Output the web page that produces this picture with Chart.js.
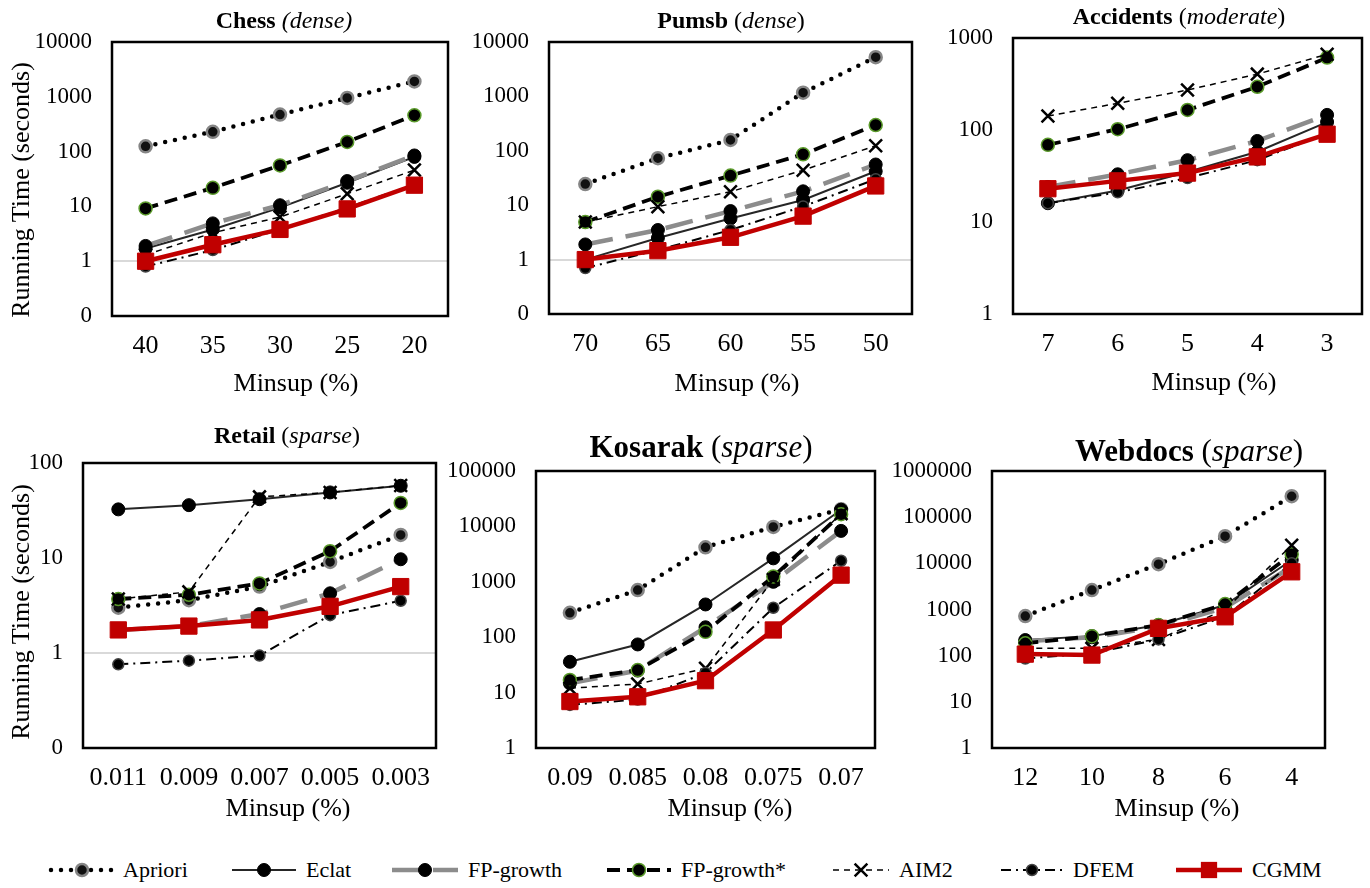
<!DOCTYPE html>
<html><head><meta charset="utf-8">
<script src="https://cdn.jsdelivr.net/npm/chart.js@4.4.1/dist/chart.umd.min.js"></script>
<style>
html,body{margin:0;padding:0;background:#fff;overflow:hidden;}
body{width:1370px;height:888px;position:relative;font-family:"Liberation Serif","Times New Roman",serif;color:#000;}
canvas{position:absolute;}
.t{position:absolute;transform:translate(-50%,-50%);white-space:nowrap;line-height:1;font-family:"Liberation Serif","Times New Roman",serif;}
.yt{position:absolute;transform:translate(-50%,-50%) rotate(-90deg);white-space:nowrap;line-height:1;font-size:26px;font-family:"Liberation Serif","Times New Roman",serif;}
.li{position:absolute;top:857px;height:26px;display:flex;align-items:center;white-space:nowrap;}
.li svg{display:block;}
.li span{font-family:"Liberation Serif","Times New Roman",serif;font-size:22px;margin-left:7px;}
</style>
</head><body>
<canvas id="chess"></canvas>
<canvas id="pumsb"></canvas>
<canvas id="accidents"></canvas>
<canvas id="retail"></canvas>
<canvas id="kosarak"></canvas>
<canvas id="webdocs"></canvas>

<div class="t" style="left:284px;top:20px;font-size:24px"><b>Chess</b> <i>(dense)</i></div>
<div class="t" style="left:731px;top:20px;font-size:24px"><b>Pumsb</b> (<i>dense</i>)</div>
<div class="t" style="left:1179px;top:16px;font-size:24px"><b>Accidents</b> (<i>moderate</i>)</div>
<div class="t" style="left:287px;top:435px;font-size:24px"><b>Retail</b> (<i>sparse</i>)</div>
<div class="t" style="left:701px;top:446px;font-size:31px"><b>Kosarak</b> (<i>sparse</i>)</div>
<div class="t" style="left:1189px;top:450px;font-size:31px"><b>Webdocs</b> (<i>sparse</i>)</div>

<div class="yt" style="left:21px;top:190px">Running Time (seconds)</div>
<div class="yt" style="left:21px;top:612px">Running Time (seconds)</div>

<div class="t" style="left:296px;top:383px;font-size:26px">Minsup (%)</div>
<div class="t" style="left:737px;top:383px;font-size:26px">Minsup (%)</div>
<div class="t" style="left:1214px;top:382px;font-size:26px">Minsup (%)</div>
<div class="t" style="left:288px;top:808px;font-size:26px">Minsup (%)</div>
<div class="t" style="left:730px;top:808px;font-size:26px">Minsup (%)</div>
<div class="t" style="left:1177px;top:808px;font-size:26px">Minsup (%)</div>

<div id="legend"></div>

<script>
// ---------------- DATA ----------------
const seriesNames = ['Apriori', 'Eclat', 'FP-growth', 'FP-growth*', 'AIM2', 'DFEM', 'CGMM'];

const chessMinsup = ['40', '35', '30', '25', '20'];
const chessApriori    = [125, 230, 475, 955, 1910];
const chessEclat      = [1.7, 3.8, 9.5, 27, 80];
const chessFPgrowth   = [1.9, 4.9, 10.5, 29, 85];
const chessFPgrowthS  = [9.2, 21.8, 56, 150, 460];
const chessAIM2       = [1.3, 3.3, 6.4, 17, 46];
const chessDFEM       = [0.8, 1.6, 3.8, 9.5, 25];
const chessCGMM       = [1.0, 2.0, 3.8, 9.0, 24.4];

const pumsbMinsup = ['70', '65', '60', '55', '50'];
const pumsbApriori    = [24.5, 73, 158, 1170, 5250];
const pumsbEclat      = [1.0, 2.5, 5.7, 12.5, 42];
const pumsbFPgrowth   = [1.9, 3.5, 7.8, 18, 56];
const pumsbFPgrowthS  = [4.9, 14.3, 35, 86, 298];
const pumsbAIM2       = [4.9, 9.4, 17.7, 44, 124];
const pumsbDFEM       = [0.7, 1.5, 3.5, 9.5, 30];
const pumsbCGMM       = [1.0, 1.46, 2.57, 6.3, 22.6];

const accMinsup = ['7', '6', '5', '4', '3'];
const accApriori      = [null, null, null, null, null];
const accEclat        = [16, 22, 35, 58, 122];
const accFPgrowth     = [24, 33, 47, 76, 146];
const accFPgrowthS    = [69, 102, 165, 295, 612];
const accAIM2         = [142, 195, 272, 405, 665];
const accDFEM         = [16, 21, 30, 47, 92];
const accCGMM         = [23, 28, 34, 51, 90];

const retailMinsup = ['0.011', '0.009', '0.007', '0.005', '0.003'];
const retailApriori   = [3.0, 3.6, 5.0, 9.1, 17.5];
const retailEclat     = [32.5, 36, 41.6, 49, 57.6];
const retailFPgrowth  = [1.75, 1.92, 2.57, 4.25, 9.7];
const retailFPgrowthS = [3.7, 4.1, 5.4, 11.8, 38];
const retailAIM2      = [3.7, 4.4, 44, 49, 58];
const retailDFEM      = [0.76, 0.83, 0.94, 2.5, 3.55];
const retailCGMM      = [1.75, 1.92, 2.23, 3.1, 5.0];

const kosMinsup = ['0.09', '0.085', '0.08', '0.075', '0.07'];
const kosApriori      = [276, 710, 4200, 9800, 20400];
const kosEclat        = [36, 74, 390, 2650, 20000];
const kosFPgrowth     = [14.7, 25, 151, 1000, 8300];
const kosFPgrowthS    = [16.9, 25.5, 125, 1240, 16600];
const kosAIM2         = [12, 14.3, 27.4, 1100, 17000];
const kosDFEM         = [6.0, 7.5, 22.6, 340, 2400];
const kosCGMM         = [6.9, 8.4, 16.4, 135, 1320];

const webMinsup = ['12', '10', '8', '6', '4'];
const webApriori      = [720, 2630, 9600, 38800, 284000];
const webEclat        = [218, 265, 460, 1250, 11800];
const webFPgrowth     = [205, 250, 420, 1100, 8400];
const webFPgrowthS    = [185, 265, 460, 1310, 15800];
const webAIM2         = [144, 144, 225, 1000, 24700];
const webDFEM         = [87, 112, 225, 700, 10000];
const webCGMM         = [108, 103, 390, 695, 6550];

const ticksChess  = [0.1, 1, 10, 100, 1000, 10000];
const ticksPumsb  = [0.1, 1, 10, 100, 1000, 10000];
const ticksAcc    = [1, 10, 100, 1000];
const ticksRetail = [0.1, 1, 10, 100];
const ticksKos    = [1, 10, 100, 1000, 10000, 100000];
const ticksWeb    = [1, 10, 100, 1000, 10000, 100000, 1000000];

// ---------------- STYLES ----------------
const FONT = '"Liberation Serif", "Times New Roman", serif';
const styles = {
  'Apriori':    {color:'#000', width:4.5, dash:[0, 10], cap:'round', point:'circle', radius:6, bg:'#111', pb:'#858585', pbw:2.5},
  'Eclat':      {color:'#262626', width:2, dash:[], cap:'butt', point:'circle', radius:6.5, bg:'#000', pb:'#000', pbw:1},
  'FP-growth':  {color:'#8c8c8c', width:4.5, dash:[28, 13], cap:'butt', point:'circle', radius:6.5, bg:'#000', pb:'#000', pbw:1},
  'FP-growth*': {color:'#000', width:3.8, dash:[13, 7], cap:'butt', point:'circle', radius:6.5, bg:'#000', pb:'#5a9a2a', pbw:1.5},
  'AIM2':       {color:'#000', width:1.5, dash:[6, 5], cap:'butt', point:'crossRot', radius:9, bg:'#000', pb:'#000', pbw:2.5},
  'DFEM':       {color:'#000', width:2, dash:[10, 5, 2, 5], cap:'butt', point:'circle', radius:5.5, bg:'#000', pb:'#444', pbw:1.5},
  'CGMM':       {color:'#c00000', width:4.5, dash:[], cap:'butt', point:'rect', radius:11.5, bg:'#c00000', pb:'#c00000', pbw:1}
};

const framePlugin = {
  id: 'frame',
  beforeDatasetsDraw(chart) {
    const {ctx, chartArea: a} = chart;
    ctx.save();
    ctx.strokeStyle = '#000';
    ctx.lineWidth = 2.5;
    ctx.strokeRect(a.left, a.top, a.right - a.left, a.bottom - a.top);
    ctx.restore();
  }
};

function makeChart(id, plot, labels, values, yTicks) {
  const padL = 110, padT = 40, padR = 16, axisH = 60;
  const cv = document.getElementById(id);
  const w = plot.r - plot.l + padL + padR;
  const h = plot.b - plot.t + padT + axisH;
  cv.style.left = (plot.l - padL) + 'px';
  cv.style.top = (plot.t - padT) + 'px';
  cv.width = w; cv.height = h;
  cv.style.width = w + 'px'; cv.style.height = h + 'px';
  const datasets = seriesNames.map((name, i) => {
    const s = styles[name];
    return {
      label: name,
      data: values[i],
      order: seriesNames.length - i,
      borderColor: s.color, backgroundColor: s.bg,
      borderWidth: s.width, borderDash: s.dash, borderCapStyle: s.cap,
      pointStyle: s.point, pointRadius: s.radius, pointHoverRadius: s.radius,
      pointBackgroundColor: s.bg, pointBorderColor: s.pb, pointBorderWidth: s.pbw,
      fill: false, tension: 0, clip: false, spanGaps: false
    };
  });
  return new Chart(cv, {
    type: 'line',
    data: {labels: labels, datasets: datasets},
    options: {
      responsive: false, animation: false, devicePixelRatio: 1,
      layout: {padding: {left: 0, top: padT, right: padR, bottom: 0}},
      plugins: {legend: {display: false}, tooltip: {enabled: false}, title: {display: false}},
      events: [],
      scales: {
        x: {
          type: 'category', offset: true,
          grid: {display: false, drawTicks: false},
          border: {display: false},
          ticks: {font: {family: FONT, size: 26}, color: '#000', padding: 15, maxRotation: 0, autoSkip: false},
          afterFit(s) { s.height = axisH; }
        },
        y: {
          type: 'logarithmic',
          min: yTicks[0], max: yTicks[yTicks.length - 1],
          afterBuildTicks(s) { s.ticks = yTicks.map(v => ({value: v})); },
          grid: {
            drawTicks: false, lineWidth: 2,
            color: c => (c.tick && c.tick.value === 1) ? '#d9d9d9' : 'rgba(0,0,0,0)'
          },
          border: {display: false},
          ticks: {
            font: {family: FONT, size: 23}, color: '#000', padding: 20, autoSkip: false,
            callback: v => (v < 1 ? '0' : String(v))
          },
          afterFit(s) { s.width = padL; }
        }
      }
    },
    plugins: [framePlugin]
  });
}

makeChart('chess', {l:112, r:448, t:42, b:316}, chessMinsup,
  [chessApriori, chessEclat, chessFPgrowth, chessFPgrowthS, chessAIM2, chessDFEM, chessCGMM], ticksChess);
makeChart('pumsb', {l:549, r:912, t:42, b:314}, pumsbMinsup,
  [pumsbApriori, pumsbEclat, pumsbFPgrowth, pumsbFPgrowthS, pumsbAIM2, pumsbDFEM, pumsbCGMM], ticksPumsb);
makeChart('accidents', {l:1013, r:1362, t:38, b:314}, accMinsup,
  [accApriori, accEclat, accFPgrowth, accFPgrowthS, accAIM2, accDFEM, accCGMM], ticksAcc);
makeChart('retail', {l:83, r:436, t:463, b:748}, retailMinsup,
  [retailApriori, retailEclat, retailFPgrowth, retailFPgrowthS, retailAIM2, retailDFEM, retailCGMM], ticksRetail);
makeChart('kosarak', {l:536, r:875, t:471, b:748}, kosMinsup,
  [kosApriori, kosEclat, kosFPgrowth, kosFPgrowthS, kosAIM2, kosDFEM, kosCGMM], ticksKos);
makeChart('webdocs', {l:992, r:1325, t:471, b:748}, webMinsup,
  [webApriori, webEclat, webFPgrowth, webFPgrowthS, webAIM2, webDFEM, webCGMM], ticksWeb);

// ---------------- LEGEND ----------------
const legendPos = [
  {x: 48, w: 68}, {x: 229, w: 70}, {x: 389, w: 72}, {x: 604, w: 70},
  {x: 830, w: 62}, {x: 998, w: 68}, {x: 1173, w: 72}
];
function markerSVG(s, cx, cy) {
  if (s.point === 'circle') {
    return `<circle cx="${cx}" cy="${cy}" r="${s.radius}" fill="${s.bg}" stroke="${s.pb}" stroke-width="${s.pbw}"/>`;
  }
  if (s.point === 'crossRot') {
    const d = s.radius * Math.SQRT1_2;
    return `<path d="M${cx-d} ${cy-d}L${cx+d} ${cy+d}M${cx-d} ${cy+d}L${cx+d} ${cy-d}" stroke="${s.pb}" stroke-width="${s.pbw}"/>`;
  }
  const half = s.radius * Math.SQRT1_2;
  return `<rect x="${cx-half}" y="${cy-half}" width="${2*half}" height="${2*half}" fill="${s.bg}"/>`;
}
const legend = document.getElementById('legend');
seriesNames.forEach((name, i) => {
  const s = styles[name];
  const p = legendPos[i];
  const hgt = 26, cy = 13;
  const dash = s.dash.length ? `stroke-dasharray="${s.dash.join(' ')}"` : '';
  const svg = `<svg width="${p.w}" height="${hgt}" viewBox="0 0 ${p.w} ${hgt}">
    <line x1="3" y1="${cy}" x2="${p.w - 3}" y2="${cy}" stroke="${s.color}" stroke-width="${s.width}" ${dash} stroke-linecap="${s.cap}"/>
    ${markerSVG(s, p.w / 2, cy)}</svg>`;
  const div = document.createElement('div');
  div.className = 'li';
  div.style.left = p.x + 'px';
  div.innerHTML = svg + `<span>${name}</span>`;
  legend.appendChild(div);
});
</script>
</body></html>
